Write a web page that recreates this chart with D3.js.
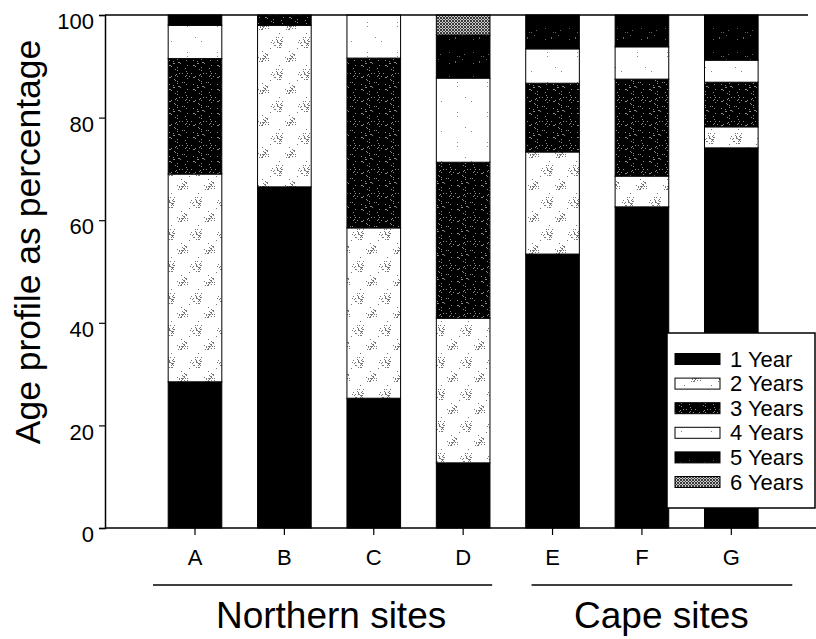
<!DOCTYPE html>
<html>
<head>
<meta charset="utf-8">
<script src="https://cdn.jsdelivr.net/npm/d3@7/dist/d3.min.js"></script>
<style>
  html, body { margin: 0; padding: 0; background: #fff; }
  svg { display: block; font-family: "Liberation Sans", Arial, sans-serif; }
</style>
</head>
<body>
<svg id="chart" width="816" height="639"></svg>
<script>
// Sites and their regional grouping
const sites = ["A", "B", "C", "D", "E", "F", "G"];
const groupLabels = ["Northern sites", "Cape sites"];
const groupSites = [["A", "B", "C", "D"], ["E", "F", "G"]];

// Age classes (stack order, bottom to top)
const ageClasses = ["1 Year", "2 Years", "3 Years", "4 Years", "5 Years", "6 Years"];

// Percentage of each age class at each site
const year1 = [28.5, 66.5, 25.3, 12.7, 53.4, 62.6, 74.1];
const year2 = [40.5, 31.5, 33.2, 28.2, 19.9, 6.0, 4.1];
const year3 = [22.5, 2.0, 33.1, 30.4, 13.4, 18.9, 8.7];
const year4 = [6.5, 0, 8.4, 16.4, 6.7, 6.3, 4.3];
const year5 = [2.0, 0, 0, 8.4, 6.6, 6.2, 8.8];
const year6 = [0, 0, 0, 3.9, 0, 0, 0];

const yTicks = [0, 20, 40, 60, 80, 100];
const yTitle = "Age profile as percentage";

const seriesValues = [year1, year2, year3, year4, year5, year6];
const rows = sites.map((s, i) => {
  const r = { site: s };
  ageClasses.forEach((k, j) => { r[k] = seriesValues[j][i]; });
  return r;
});

const svg = d3.select("#chart");

// Scales
const x = d3.scaleBand().domain(sites).range([150.3, 776]).paddingInner(0.4).paddingOuter(0.2);
const y = d3.scaleLinear().domain([0, 100]).range([528, 15]);

// Fill textures (simple deterministic speckle generator)
function rng(seed) {
  let s = seed >>> 0;
  return () => { s = (s * 1664525 + 1013904223) >>> 0; return s / 4294967296; };
}
const defs = svg.append("defs");
function speckle(id, w, h, bg, fg, count, seed, cluster) {
  const p = defs.append("pattern").attr("id", id).attr("patternUnits", "userSpaceOnUse")
    .attr("width", w).attr("height", h);
  p.append("rect").attr("width", w).attr("height", h).attr("fill", bg);
  const r = rng(seed);
  for (let i = 0; i < count; i++) {
    let px, py;
    if (cluster) {
      const c = cluster[i % cluster.length];
      px = c[0] + (r() + r() + r() - 1.5) * c[2];
      py = c[1] + (r() + r() + r() - 1.5) * c[2];
    } else { px = r() * w; py = r() * h; }
    p.append("rect").attr("x", Math.round(px)).attr("y", Math.round(py))
      .attr("width", 1).attr("height", 1).attr("fill", fg);
  }
}
speckle("p1", 10, 10, "#000", "#000", 0, 1);
speckle("p2", 27, 32, "#fff", "#777", 60, 7, [[8, 10, 7], [21, 25, 7]]);
speckle("p3", 24, 24, "#000", "#8a8a8a", 40, 11);
speckle("p4", 30, 30, "#fff", "#888", 4, 5);
speckle("p5", 24, 24, "#000", "#666", 8, 13);
// 6 Years: dense grey cross-hatch
const p6 = defs.append("pattern").attr("id", "p6").attr("patternUnits", "userSpaceOnUse")
  .attr("width", 3).attr("height", 3);
p6.append("rect").attr("width", 3).attr("height", 3).attr("fill", "#c8c8c8");
[[0, 0], [1, 1], [2, 2], [2, 0], [0, 2]].forEach(d =>
  p6.append("rect").attr("x", d[0]).attr("y", d[1]).attr("width", 1).attr("height", 1).attr("fill", "#3a3a3a"));

const fills = d3.scaleOrdinal().domain(ageClasses)
  .range(["url(#p1)", "url(#p2)", "url(#p3)", "url(#p4)", "url(#p5)", "url(#p6)"]);

// Stacked bars
const stacked = d3.stack().keys(ageClasses)(rows);
svg.append("g").selectAll("g").data(stacked).join("g")
  .attr("fill", d => fills(d.key))
  .selectAll("rect").data(d => d.filter(s => s[1] - s[0] > 0)).join("rect")
  .attr("x", d => x(d.data.site))
  .attr("width", x.bandwidth())
  .attr("y", d => y(d[1]))
  .attr("height", d => y(d[0]) - y(d[1]))
  .attr("stroke", "#000")
  .attr("stroke-width", 1);

// Frame lines: top and bottom
const frame = svg.append("g").attr("stroke", "#000").attr("stroke-width", 1.5).attr("fill", "none");
frame.append("line").attr("x1", 105).attr("x2", 808).attr("y1", y(100)).attr("y2", y(100));
frame.append("line").attr("x1", 105).attr("x2", 816).attr("y1", y(0)).attr("y2", y(0));

// Y axis
const yAxis = svg.append("g").attr("transform", "translate(105,0)")
  .call(d3.axisLeft(y).tickValues(yTicks).tickSize(6).tickPadding(5).tickFormat(d3.format("d")));
yAxis.select(".domain").attr("stroke-width", 1.5);
yAxis.selectAll(".tick line").attr("stroke-width", 1.2);
yAxis.selectAll("text").attr("font-size", 22).attr("font-family", "Liberation Sans, Arial, sans-serif")
  .attr("fill", "#000").attr("dy", "0.62em");

// X axis
const xAxis = svg.append("g").attr("transform", `translate(0,${y(0)})`)
  .call(d3.axisBottom(x).tickSize(7).tickPadding(14));
xAxis.select(".domain").remove();
xAxis.selectAll(".tick line").attr("stroke-width", 1.2);
xAxis.selectAll("text").attr("font-size", 22).attr("font-family", "Liberation Sans, Arial, sans-serif")
  .attr("fill", "#000");

// Group underlines and labels
const groupSpan = [[-42, 29], [-21, 61]];
const groupShift = [2, 19.5];
groupLabels.forEach((lab, i) => {
  const first = groupSites[i][0], last = groupSites[i][groupSites[i].length - 1];
  const cFirst = x(first) + x.bandwidth() / 2, cLast = x(last) + x.bandwidth() / 2;
  const x1 = cFirst + groupSpan[i][0], x2 = cLast + groupSpan[i][1];
  svg.append("line").attr("x1", x1).attr("x2", x2).attr("y1", 585).attr("y2", 585)
    .attr("stroke", "#000").attr("stroke-width", 1.5);
  svg.append("text").attr("x", (cFirst + cLast) / 2 + groupShift[i]).attr("y", 628)
    .attr("text-anchor", "middle").attr("font-size", 37).attr("fill", "#000").text(lab);
});

// Y title
svg.append("text").attr("transform", "translate(40,242) rotate(-90)")
  .attr("text-anchor", "middle").attr("font-size", 35.5).attr("fill", "#000").text(yTitle);

// Legend
const legend = svg.append("g");
legend.append("rect").attr("x", 667).attr("y", 333).attr("width", 148).attr("height", 175)
  .attr("fill", "#fff").attr("stroke", "#000").attr("stroke-width", 1.5);
ageClasses.forEach((k, i) => {
  const cy = 359 + i * 24.6;
  legend.append("rect").attr("x", 675).attr("y", cy - 5.5).attr("width", 45).attr("height", 11)
    .attr("fill", fills(k)).attr("stroke", "#000").attr("stroke-width", 1);
  legend.append("text").attr("x", 730).attr("y", cy + 7.5).attr("font-size", 22)
    .attr("fill", "#000").text(k);
});
</script>
</body>
</html>
